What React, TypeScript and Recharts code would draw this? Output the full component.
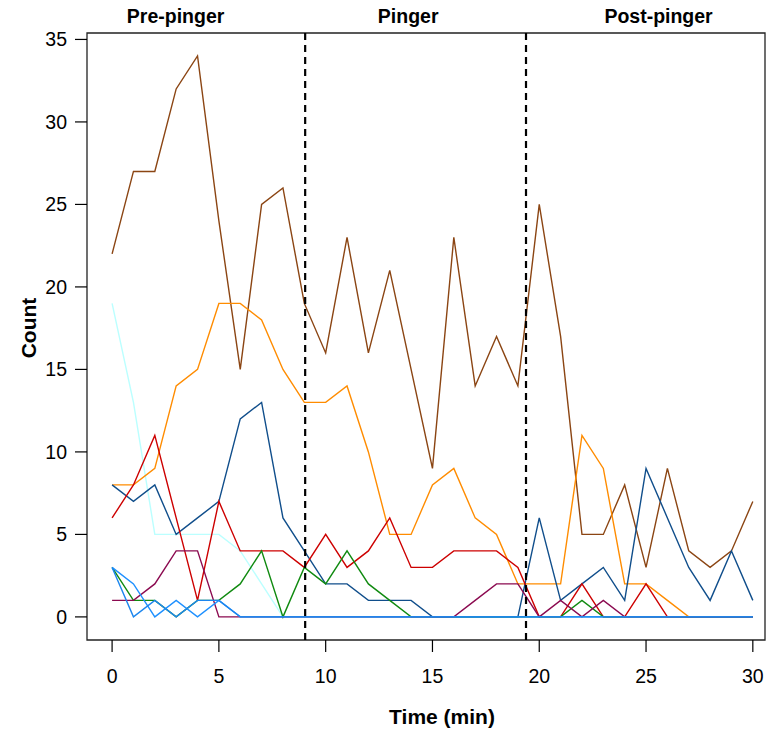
import {
    LineChart,
    Line,
    XAxis,
    YAxis,
    ReferenceLine,
    ReferenceArea,
    Label
} from "recharts";

// minutes since start of the trial
const minutes = [0, 1, 2, 3, 4, 5, 6, 7, 8, 9, 10, 11, 12, 13, 14, 15, 16, 17, 18, 19, 20, 21, 22, 23, 24, 25, 26, 27, 28, 29, 30];

// counts per minute, one array per group
const brown = [22, 27, 27, 32, 34, 24, 15, 25, 26, 19, 16, 23, 16, 21, 15, 9, 23, 14, 17, 14, 25, 17, 5, 5, 8, 3, 9, 4, 3, 4, 7];
const orange = [8, 8, 9, 14, 15, 19, 19, 18, 15, 13, 13, 14, 10, 5, 5, 8, 9, 6, 5, 2, 2, 2, 11, 9, 2, 2, 1, 0, 0, 0, 0];
const navy = [8, 7, 8, 5, 6, 7, 12, 13, 6, 4, 2, 2, 1, 1, 1, 0, 0, 0, 0, 0, 6, 1, 2, 3, 1, 9, 6, 3, 1, 4, 1];
const red = [6, 8, 11, 6, 1, 7, 4, 4, 4, 3, 5, 3, 4, 6, 3, 3, 4, 4, 4, 3, 0, 0, 2, 0, 0, 2, 0, 0, 0, 0, 0];
const green = [3, 1, 1, 0, 1, 1, 2, 4, 0, 3, 2, 4, 2, 1, 0, 0, 0, 0, 0, 0, 0, 0, 1, 0, 0, 0, 0, 0, 0, 0, 0];
const purple = [1, 1, 2, 4, 4, 0, 0, 0, 0, 0, 0, 0, 0, 0, 0, 0, 0, 1, 2, 2, 0, 1, 0, 1, 0, 0, 0, 0, 0, 0, 0];
const cyan = [19, 13, 5, 5, 5, 5, 4, 2, 0, 0, 0, 0, 0, 0, 0, 0, 0, 0, 0, 0, 0, 0, 0, 0, 0, 0, 0, 0, 0, 0, 0];
const blueA = [3, 2, 0, 1, 0, 1, 0, 0, 0, 0, 0, 0, 0, 0, 0, 0, 0, 0, 0, 0, 0, 0, 0, 0, 0, 0, 0, 0, 0, 0, 0];
const blueB = [3, 0, 1, 0, 1, 1, 0, 0, 0, 0, 0, 0, 0, 0, 0, 0, 0, 0, 0, 0, 0, 0, 0, 0, 0, 0, 0, 0, 0, 0, 0];

// pinger switched on / off
const periodNames = ["Pre-pinger", "Pinger", "Post-pinger"];
const periodBreaks = [9.04, 19.38];

const xTicks = [0, 5, 10, 15, 20, 25, 30];
const yTicks = [0, 5, 10, 15, 20, 25, 30, 35];

const xDomain = [-1.175, 30.57];
const yDomain = [-1.4, 35.39];

// period labels sit in the middle of each section (R style 4% padded range)
const edges = [-1.2, ...periodBreaks, 31.2];
const periodCenters = periodNames.map((_, i) => (edges[i] + edges[i + 1]) / 2);

const series = [
    { key: "cyan", color: "#BBFFFF", values: cyan },
    { key: "brown", color: "#8B4513", values: brown },
    { key: "orange", color: "#FF8C00", values: orange },
    { key: "navy", color: "#104E8B", values: navy },
    { key: "red", color: "#CD0000", values: red },
    { key: "green", color: "#108A10", values: green },
    { key: "purple", color: "#8B0A50", values: purple },
    { key: "blueA", color: "#1E90FF", values: blueA },
    { key: "blueB", color: "#1C86EE", values: blueB }
];

const data = minutes.map((t, i) => {
    const row: Record<string, number> = { t };
    series.forEach(s => {
        row[s.key] = s.values[i];
    });
    return row;
});

const font = "'Liberation Sans', Arial, Helvetica, sans-serif";

function App() {

    return (

        <div style={{ position: "absolute", left: 0, top: 0, width: 768, height: 732, background: "#fff" }}>

            <LineChart
                width={768}
                height={732}
                data={data}
                margin={{ top: 0, right: 3, bottom: 0, left: 0 }}
            >

                <XAxis
                    dataKey="t"
                    type="number"
                    domain={xDomain}
                    ticks={xTicks}
                    interval={0}
                    allowDataOverflow
                    axisLine={false}
                    tickLine={{ stroke: "#000", strokeWidth: 1.2 }}
                    tickSize={12}
                    tickMargin={17}
                    height={92}
                    tick={{ fill: "#000", fontSize: 19.5, fontFamily: font }}
                >
                    <Label
                        content={() => (
                            <text x={442} y={724} textAnchor="middle" fontSize={21} fontWeight="bold" fontFamily={font} fill="#000">
                                Time (min)
                            </text>
                        )}
                    />
                </XAxis>

                <XAxis
                    xAxisId="top"
                    orientation="top"
                    type="number"
                    domain={xDomain}
                    ticks={periodCenters}
                    interval={0}
                    allowDataOverflow
                    axisLine={false}
                    tickLine={false}
                    tickSize={0}
                    tickMargin={10}
                    height={33}
                    tickFormatter={(v: number) => {
                        const i = periodCenters.findIndex(c => Math.abs(c - v) < 1e-6);
                        return i >= 0 ? periodNames[i] : "";
                    }}
                    tick={{ fill: "#000", fontSize: 19.5, fontWeight: "bold", fontFamily: font }}
                />

                <YAxis
                    type="number"
                    domain={yDomain}
                    ticks={yTicks}
                    interval={0}
                    allowDataOverflow
                    axisLine={false}
                    tickLine={{ stroke: "#000", strokeWidth: 1.2 }}
                    tickSize={12}
                    tickMargin={8}
                    width={87}
                    tick={{ fill: "#000", fontSize: 19.5, fontFamily: font }}
                >
                    <Label
                        content={() => (
                            <text x={28} y={328} transform="rotate(-90 28 328)" textAnchor="middle" dominantBaseline="central" fontSize={21} fontWeight="bold" fontFamily={font} fill="#000">
                                Count
                            </text>
                        )}
                    />
                </YAxis>

                <ReferenceArea
                    x1={xDomain[0]}
                    x2={xDomain[1]}
                    y1={yDomain[0]}
                    y2={yDomain[1]}
                    fill="none"
                    stroke="#222"
                    strokeWidth={1.3}
                    ifOverflow="visible"
                />

                {series.map(s => (
                    <Line
                        key={s.key}
                        type="linear"
                        dataKey={s.key}
                        stroke={s.color}
                        strokeWidth={1.4}
                        dot={false}
                        activeDot={false}
                        isAnimationActive={false}
                    />
                ))}

                {periodBreaks.map(b => (
                    <ReferenceLine
                        key={b}
                        x={b}
                        stroke="#000"
                        strokeWidth={2.2}
                        strokeDasharray="7 5"
                    />
                ))}

            </LineChart>

        </div>

    );

}

export default App;
